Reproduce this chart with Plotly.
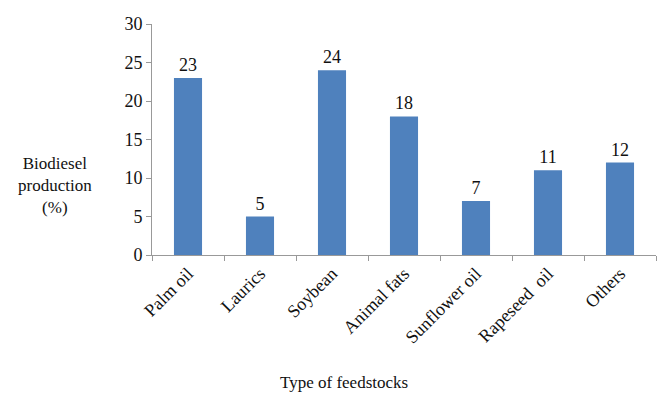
import plotly.graph_objects as go

categories = ["Palm oil", "Laurics", "Soybean", "Animal fats", "Sunflower oil", "Rapeseed  oil", "Others"]
values = [23, 5, 24, 18, 7, 11, 12]
y_ticks = [0, 5, 10, 15, 20, 25, 30]

font_family = "Liberation Serif"

fig = go.Figure(go.Bar(
    x=categories, y=values,
    marker=dict(color="#4F81BD", line=dict(width=0)),
    text=[str(v) for v in values], textposition="outside",
    textfont=dict(family=font_family, size=18, color="#111"),
    cliponaxis=False, width=0.39,
))

fig.update_layout(
    width=663, height=395,
    margin=dict(l=152, r=7, t=24, b=140),
    plot_bgcolor="white", paper_bgcolor="white",
    showlegend=False,
    font=dict(family=font_family, size=17, color="#111"),
    xaxis=dict(
        showline=True, linecolor="#999", linewidth=1,
        ticks="outside", tickson="boundaries", ticklen=5, tickcolor="#999",
        tickangle=-45, tickfont=dict(family=font_family, size=18, color="#111"),
        showgrid=False,
    ),
    yaxis=dict(
        range=[0, 30], tickvals=y_ticks,
        showline=True, linecolor="#999", linewidth=1,
        ticks="outside", ticklen=5, tickcolor="#999",
        tickfont=dict(family=font_family, size=18, color="#111"),
        showgrid=False, zeroline=False,
    ),
    annotations=[
        dict(text="Biodiesel<br>production<br>(%)", xref="paper", yref="paper",
             x=-0.192, y=0.3, xanchor="center", yanchor="middle",
             showarrow=False, align="center",
             font=dict(family=font_family, size=17, color="#111")),
        dict(text="Type of feedstocks", xref="paper", yref="paper",
             x=0.38, y=-0.554, xanchor="center", yanchor="middle",
             showarrow=False,
             font=dict(family=font_family, size=17, color="#111")),
    ],
)

fig.write_html("out.html")
